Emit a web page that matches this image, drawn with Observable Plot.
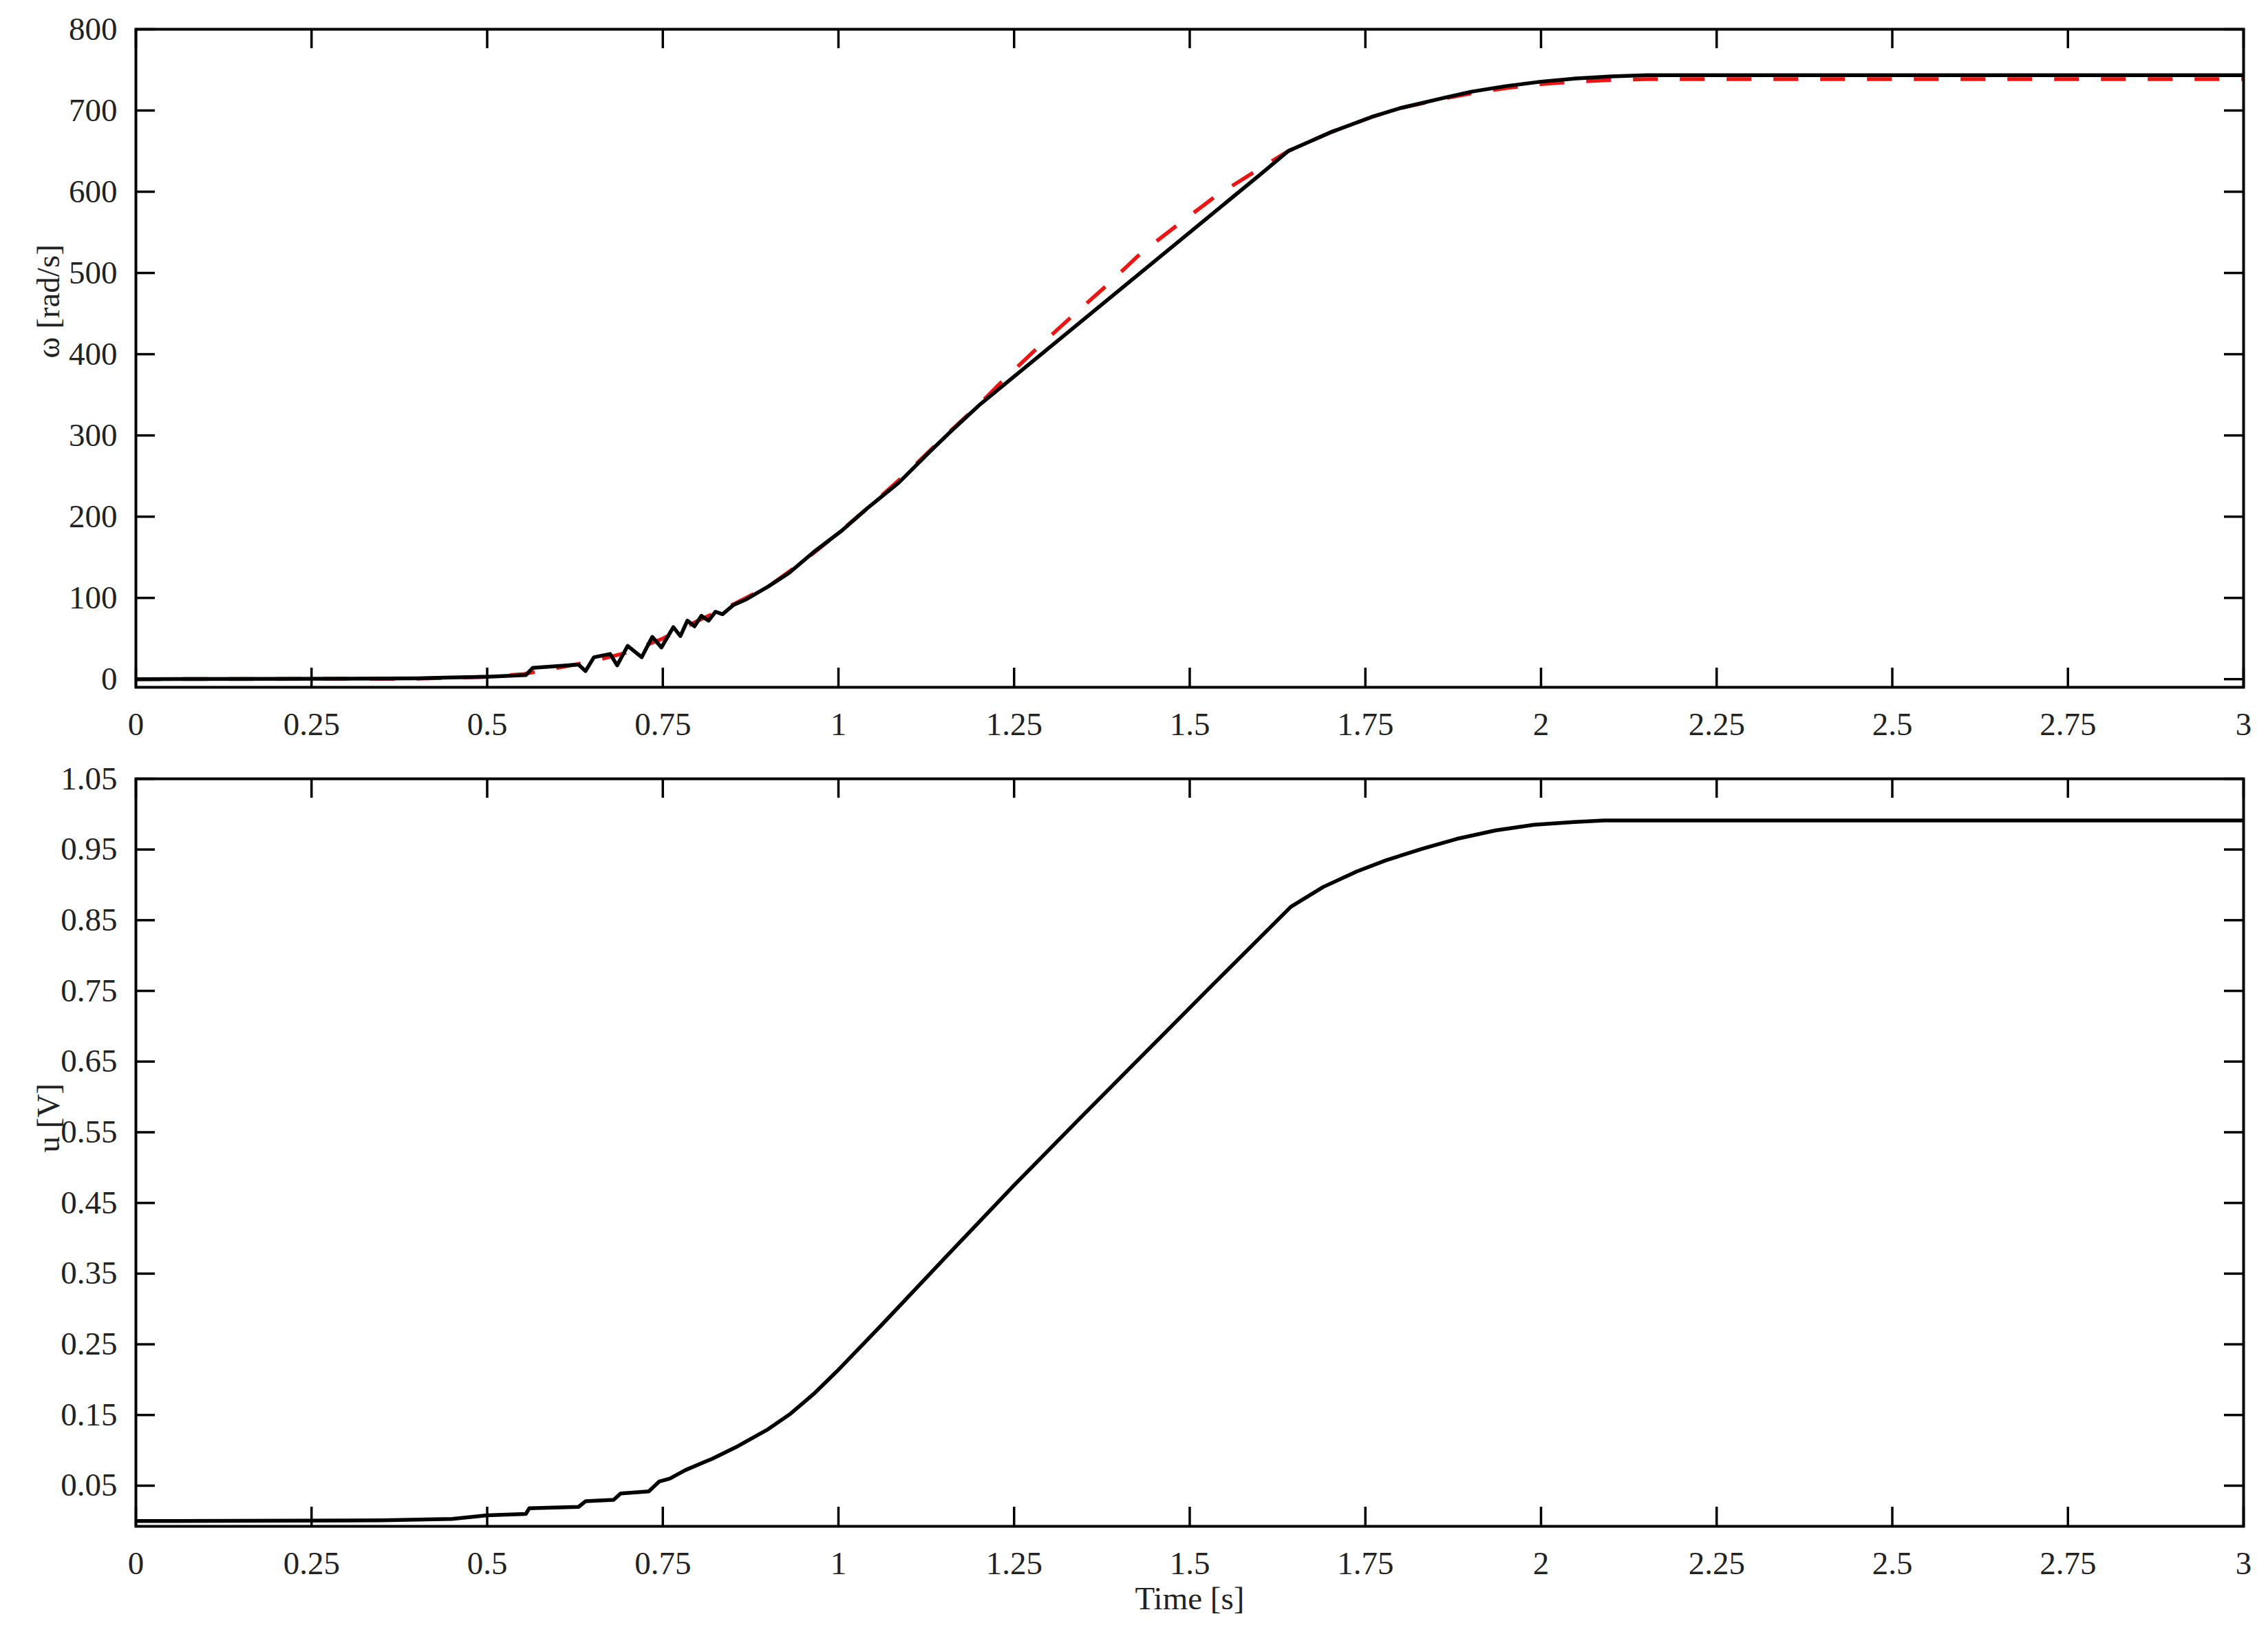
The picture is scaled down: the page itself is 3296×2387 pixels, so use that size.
<!DOCTYPE html>
<html>
<head>
<meta charset="utf-8">
<script src="https://cdn.jsdelivr.net/npm/d3@7"></script>
<script src="https://cdn.jsdelivr.net/npm/@observablehq/plot@0.6"></script>
<style>
html, body { margin: 0; padding: 0; background: #fff; }
#wrap { position: relative; width: 3296px; height: 2387px; background: #fff; }
#top { position: absolute; left: 0; top: 0; }
#bot { position: absolute; left: 0; top: 1100px; }
</style>
</head>
<body>
<div id="wrap"><div id="top"></div><div id="bot"></div></div>
<script>
// ---- Data ----
const timeTicks = [0, 0.25, 0.5, 0.75, 1, 1.25, 1.5, 1.75, 2, 2.25, 2.5, 2.75, 3];
const omegaTicks = [0, 100, 200, 300, 400, 500, 600, 700, 800];
const uTicks = [0.05, 0.15, 0.25, 0.35, 0.45, 0.55, 0.65, 0.75, 0.85, 0.95, 1.05];

// measured angular velocity (black solid)
const omegaMeasT = [0, 0.2, 0.3, 0.4, 0.45, 0.5, 0.555, 0.565, 0.6, 0.63, 0.64, 0.652, 0.675, 0.685, 0.70, 0.72, 0.735, 0.748, 0.765, 0.775, 0.785, 0.795, 0.805, 0.815, 0.825, 0.835, 0.85, 0.868, 0.9, 0.93, 0.967, 1.005, 1.042, 1.086, 1.13, 1.16, 1.2, 1.3, 1.4, 1.5, 1.6, 1.64, 1.7, 1.759, 1.8, 1.864, 1.9, 1.95, 2.0, 2.05, 2.1, 2.15, 2.5, 3.0];
const omegaMeas  = [0, 0.3, 0.5, 1, 2, 3, 5, 14, 16, 18, 10, 27, 31, 17, 41, 27, 52, 39, 64, 53, 72, 65, 78, 72, 83, 80, 91, 98, 114, 131, 158, 183, 211, 242, 280, 305, 337, 408, 479, 550, 621, 650, 673, 692, 703, 716, 723, 730, 735.5, 739.5, 742, 743.5, 743.5, 743.5];

// model angular velocity (red dashed)
const omegaModelT = [0, 0.4, 0.5, 0.55, 0.6, 0.65, 0.7, 0.75, 0.8, 0.85, 0.9, 0.95, 1.0, 1.05, 1.1, 1.15, 1.2, 1.231, 1.281, 1.329, 1.381, 1.43, 1.481, 1.536, 1.595, 1.64, 1.7, 1.759, 1.8, 1.864, 1.9, 1.95, 2.0, 2.05, 2.1, 2.15, 3.0];
const omegaModel  = [0, 0.5, 3, 6, 14, 22, 33, 50, 72, 92, 114, 145, 180, 217, 256, 298, 338, 365, 406, 444, 484, 524, 558, 594, 626, 650, 673, 692, 703, 715, 721, 727.5, 732.5, 735.5, 737.5, 738.5, 738.5];

// control voltage (black solid)
const uT = [0, 0.35, 0.45, 0.5, 0.555, 0.56, 0.63, 0.64, 0.68, 0.69, 0.73, 0.745, 0.76, 0.782, 0.82, 0.857, 0.9, 0.932, 0.965, 0.998, 1.063, 1.157, 1.251, 1.344, 1.438, 1.532, 1.644, 1.69, 1.738, 1.78, 1.831, 1.88, 1.935, 1.99, 2.047, 2.09, 3.0];
const uV = [0, 0.001, 0.003, 0.008, 0.01, 0.018, 0.02, 0.028, 0.03, 0.039, 0.042, 0.056, 0.06, 0.072, 0.088, 0.106, 0.13, 0.152, 0.18, 0.212, 0.279, 0.378, 0.476, 0.570, 0.664, 0.758, 0.869, 0.897, 0.919, 0.935, 0.951, 0.965, 0.977, 0.985, 0.989, 0.991, 0.991];

const zip = (ts, vs) => ts.map((t, i) => ({t, v: vs[i]}));
const measured = zip(omegaMeasT, omegaMeas);
const model = zip(omegaModelT, omegaModel);
const voltage = zip(uT, uV);

// ---- Styling ----
const W = 3296;
const FONT = "'Liberation Serif', 'Times New Roman', serif";
const FS = 47;
const TICK = 28;
const ML = 197, MR = 36;

function panel({height, marginTop, marginBottom, yDomain, yTicks, series, ylabel, xlabel}) {
  const innerH = height - marginTop - marginBottom;
  const innerW = W - ML - MR;
  const marks = [];
  for (const s of series) {
    marks.push(Plot.line(s.data, {x: "t", y: "v", stroke: s.stroke, strokeWidth: 5.5,
      strokeDasharray: s.dash || null, strokeLinejoin: "round", strokeLinecap: "butt", curve: "linear"}));
  }
  // inward ticks on all four sides
  marks.push(Plot.ruleX(timeTicks, {x: d => d, insetTop: innerH - TICK, stroke: "black", strokeWidth: 3.5}));
  marks.push(Plot.ruleX(timeTicks, {x: d => d, insetBottom: innerH - TICK, stroke: "black", strokeWidth: 3.5}));
  marks.push(Plot.ruleY(yTicks, {y: d => d, insetRight: innerW - TICK, stroke: "black", strokeWidth: 3.5}));
  marks.push(Plot.ruleY(yTicks, {y: d => d, insetLeft: innerW - TICK, stroke: "black", strokeWidth: 3.5}));
  marks.push(Plot.frame({stroke: "black", strokeWidth: 4}));
  marks.push(Plot.axisX({ticks: timeTicks, tickSize: 0, tickPadding: 36, label: null, tickFormat: d => String(d), fontSize: FS}));
  marks.push(Plot.axisY({ticks: yTicks, tickSize: 0, tickPadding: 27, label: null, tickFormat: d => String(d), fontSize: FS}));
  marks.push(Plot.text([ylabel], {text: d => d, frameAnchor: "left", dx: -127, rotate: -90, fontSize: FS, fill: "#222"}));
  if (xlabel) {
    marks.push(Plot.text([xlabel], {text: d => d, frameAnchor: "bottom", dy: 120, fontSize: FS, fill: "#222"}));
  }
  return Plot.plot({
    width: W, height,
    marginTop, marginBottom, marginLeft: ML, marginRight: MR,
    style: {fontFamily: FONT, fontSize: FS + "px", color: "#222", background: "white", overflow: "visible"},
    x: {domain: [0, 3]},
    y: {domain: yDomain},
    marks
  });
}

document.getElementById("top").appendChild(panel({
  height: 1100, marginTop: 42, marginBottom: 102,
  yDomain: [-10, 800], yTicks: omegaTicks,
  series: [
    {data: model, stroke: "#ee1414", dash: "36,32"},
    {data: measured, stroke: "black"}
  ],
  ylabel: "ω [rad/s]"
}));

document.getElementById("bot").appendChild(panel({
  height: 1287, marginTop: 31, marginBottom: 170,
  yDomain: [-0.0075, 1.05], yTicks: uTicks,
  series: [{data: voltage, stroke: "black"}],
  ylabel: "u [V]",
  xlabel: "Time [s]"
}));
</script>
</body>
</html>
